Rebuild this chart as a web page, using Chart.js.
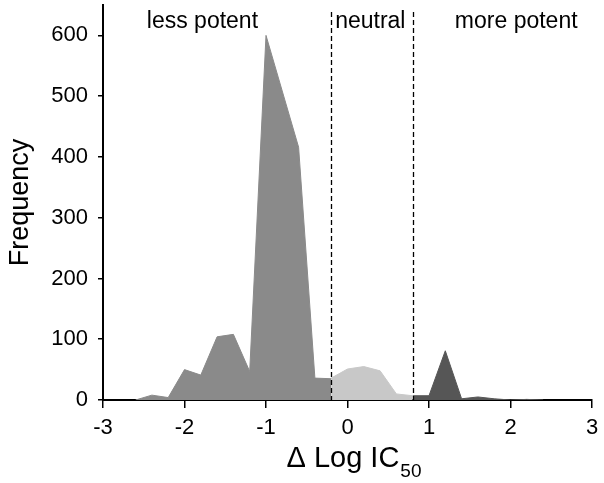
<!DOCTYPE html>
<html>
<head>
<meta charset="utf-8">
<script src="https://cdn.jsdelivr.net/npm/chart.js@4/dist/chart.umd.min.js"></script>
<style>
  html, body { margin: 0; padding: 0; background: #fff; }
  #wrap { width: 604px; height: 483px; }
</style>
</head>
<body>
<div id="wrap"><canvas id="histo"></canvas></div>
<script>
// frecuencias por intervalo de Δ Log IC50
const lessX = [-2.6, -2.4, -2.2, -2.0, -1.8, -1.6, -1.4, -1.2, -1.0, -0.6, -0.4, -0.2];
const lessY = [0, 8, 4, 50, 41, 104, 108, 47, 600, 416, 36, 35];
const neutralX = [-0.2, 0.0, 0.2, 0.4, 0.6, 0.8];
const neutralY = [36, 51, 55, 48, 10, 7];
const moreX = [0.8, 1.0, 1.2, 1.4, 1.6, 1.8, 2.0, 2.2, 2.4];
const moreY = [7, 7, 81, 2, 5, 2, 0, 1, 0];
const cutoffs = [-0.2, 0.8];
const regionNames = ['less potent', 'neutral', 'more potent'];
const xTicks = [-3, -2, -1, 0, 1, 2, 3];
const yTicks = [0, 100, 200, 300, 400, 500, 600];

const FONT = 'Arial, "Liberation Sans", sans-serif';
Chart.defaults.font.family = FONT;
Chart.defaults.color = '#000';

function pts(xs, ys) {
    return xs.map((x, i) => ({ x: x, y: ys[i] }));
}

function area(xs, ys, color) {
    return {
        data: pts(xs, ys),
        borderColor: color,
        backgroundColor: color,
        borderWidth: 1,
        pointRadius: 0,
        tension: 0,
        fill: 'origin'
    };
}

// líneas de corte, nombres de regiones y título del eje x con subíndice
const extras = {
    id: 'extras',
    afterDatasetsDraw(chart) {
        const { ctx, chartArea, scales } = chart;
        const x = scales.x;
        ctx.save();

        ctx.strokeStyle = '#000';
        ctx.lineWidth = 1.3;
        ctx.setLineDash([5, 3]);
        cutoffs.forEach(c => {
            const px = Math.round(x.getPixelForValue(c)) + 0.5;
            ctx.beginPath();
            ctx.moveTo(px, chartArea.top + 7);
            ctx.lineTo(px, chartArea.bottom);
            ctx.stroke();
        });
        ctx.setLineDash([]);

        ctx.fillStyle = '#000';
        ctx.font = '23px ' + FONT;
        ctx.textAlign = 'center';
        ctx.textBaseline = 'alphabetic';
        const labelAt = [-1.78, 0.28, 2.07];
        regionNames.forEach((t, i) => {
            ctx.fillText(t, x.getPixelForValue(labelAt[i]), 28);
        });
        ctx.restore();
    },
    afterDraw(chart) {
        const { ctx, chartArea } = chart;
        ctx.save();
        ctx.fillStyle = '#000';
        ctx.textAlign = 'left';
        ctx.textBaseline = 'alphabetic';
        const main = '\u0394 Log IC';
        const sub = '50';
        ctx.font = '29px ' + FONT;
        const wMain = ctx.measureText(main).width;
        ctx.font = '19px ' + FONT;
        const wSub = ctx.measureText(sub).width;
        const cx = (chartArea.left + chartArea.right) / 2 + 6;
        const x0 = cx - (wMain + wSub) / 2;
        ctx.font = '29px ' + FONT;
        ctx.fillText(main, x0, 467);
        ctx.font = '19px ' + FONT;
        ctx.fillText(sub, x0 + wMain + 1, 477);
        ctx.restore();
    }
};

new Chart(document.getElementById('histo').getContext('2d'), {
    type: 'line',
    data: {
        datasets: [
            area(lessX, lessY, '#8a8a8a'),
            area(neutralX, neutralY, '#c8c8c8'),
            area(moreX, moreY, '#565656')
        ]
    },
    options: {
        responsive: true,
        maintainAspectRatio: false,
        animation: false,
        layout: { padding: { top: 5, right: 12, left: 0, bottom: 0 } },
        plugins: {
            legend: { display: false },
            tooltip: { enabled: false }
        },
        scales: {
            x: {
                type: 'linear',
                min: -3,
                max: 3,
                afterBuildTicks: s => { s.ticks = xTicks.map(v => ({ value: v })); },
                afterFit: s => {
                    s.height = 83;
                    s.paddingLeft = 0;
                    s.paddingRight = 0;
                },
                ticks: { font: { size: 22 }, padding: 7, maxRotation: 0 },
                grid: { drawOnChartArea: false, tickLength: 8, color: '#000', lineWidth: 1.5 },
                border: { color: '#000', width: 2 }
            },
            y: {
                min: 0,
                max: 650,
                afterBuildTicks: s => { s.ticks = yTicks.map(v => ({ value: v })); },
                afterFit: s => {
                    s.width = 103;
                    s.paddingTop = 0;
                    s.paddingBottom = 0;
                },
                ticks: { font: { size: 22 }, padding: 10 },
                grid: { drawOnChartArea: false, tickLength: 5, color: '#000', lineWidth: 1.5 },
                border: { color: '#000', width: 2 },
                title: {
                    display: true,
                    text: 'Frequency',
                    font: { size: 27 },
                    padding: { top: 4, bottom: 0 }
                }
            }
        }
    },
    plugins: [extras]
});
</script>
</body>
</html>
